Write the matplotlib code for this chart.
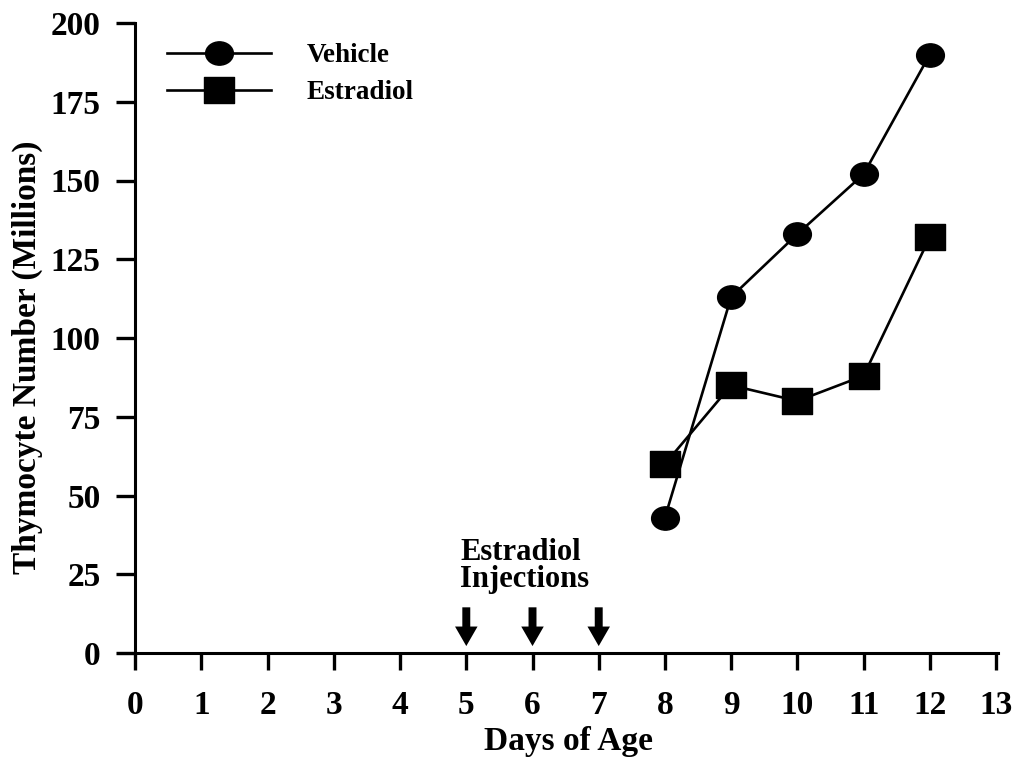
import matplotlib
matplotlib.use("Agg")
import matplotlib.pyplot as plt
import numpy as np
from matplotlib.path import Path
from matplotlib.patches import FancyArrow
from matplotlib.lines import Line2D

# ---- data ----
days = [8, 9, 10, 11, 12]
vehicle = [43, 113, 133, 152, 190]
estradiol = [60, 85, 80, 88, 132]
injection_days = [5, 6, 7]
xticks = list(range(0, 14))
yticks = [0, 25, 50, 75, 100, 125, 150, 175, 200]
series_names = ["Vehicle", "Estradiol"]
annot_lines = ["Estradiol", "Injections"]

plt.rcParams['font.family'] = ['Liberation Serif', 'DejaVu Serif']
plt.rcParams['font.weight'] = 'bold'

fig = plt.figure(figsize=(10.17, 7.57), dpi=100)
W, H = 1017, 757
ax_l, ax_r, ax_b, ax_t = 118, 998, 653, 23
ax = fig.add_axes([ax_l / W, 1 - ax_b / H, (ax_r - ax_l) / W, (ax_b - ax_t) / H])

# slightly wide markers (image is stretched horizontally)
circ = Path.unit_circle()
ell = Path(circ.vertices * np.array([1.0, 0.84]), circ.codes)
sq = Path([(-1, -0.86), (1, -0.86), (1, 0.86), (-1, 0.86), (-1, -0.86)],
          [Path.MOVETO, Path.LINETO, Path.LINETO, Path.LINETO, Path.CLOSEPOLY])

lw = 1.9
ax.plot(days, vehicle, color='black', lw=lw, marker=ell, ms=20, mfc='black', mec='black')
ax.plot(days, estradiol, color='black', lw=lw, marker=sq, ms=21, mfc='black', mec='black')

ax.set_xlim(-0.26, 13.03)
ax.set_ylim(0, 200)

for s in ['top', 'right']:
    ax.spines[s].set_visible(False)
ax.spines['left'].set_position(('data', 0))
ax.spines['left'].set_linewidth(2.2)
ax.spines['bottom'].set_linewidth(2.2)

ax.set_xticks(xticks)
ax.set_yticks(yticks)
ax.tick_params(axis='x', direction='out', length=12, width=2.4, labelsize=24, pad=15)
ax.tick_params(axis='y', direction='out', length=14, width=2.4, labelsize=24, pad=11)
for lab in ax.get_xticklabels() + ax.get_yticklabels():
    lab.set_fontweight('bold')

ax.set_xlabel("Days of Age", fontsize=24, fontweight='bold', va='baseline')
ax.xaxis.set_label_coords((568 - ax_l) / (ax_r - ax_l), (ax_b - 750) / (ax_b - ax_t))
ax.set_ylabel("Thymocyte Number (Millions)", fontsize=24, fontweight='bold', va='center')
ax.yaxis.set_label_coords((27 - ax_l) / (ax_r - ax_l), (ax_b - 357) / (ax_b - ax_t))

# injection arrows
for d in injection_days:
    ax.add_patch(FancyArrow(d, 14.5, 0, -12.3, width=0.12, head_width=0.34,
                            head_length=6.2, length_includes_head=True,
                            color='black', lw=0))
ax.text(4.91, 29.5, annot_lines[0], fontsize=22, fontweight='bold', ha='left', va='baseline')
ax.text(4.91, 21.0, annot_lines[1], fontsize=22, fontweight='bold', ha='left', va='baseline')

handles = [Line2D([], [], color='black', lw=lw, marker=ell, ms=20),
           Line2D([], [], color='black', lw=lw, marker=sq, ms=21)]
leg = ax.legend(handles, series_names, loc='upper left', frameon=False,
                bbox_to_anchor=(167 / W, 1 - 43 / H), bbox_transform=fig.transFigure,
                handlelength=3.85, handletextpad=1.3,
                labelspacing=0.45, borderpad=0, borderaxespad=0,
                prop={'weight': 'bold', 'size': 19.5})

fig.savefig("out.png", dpi=100)
